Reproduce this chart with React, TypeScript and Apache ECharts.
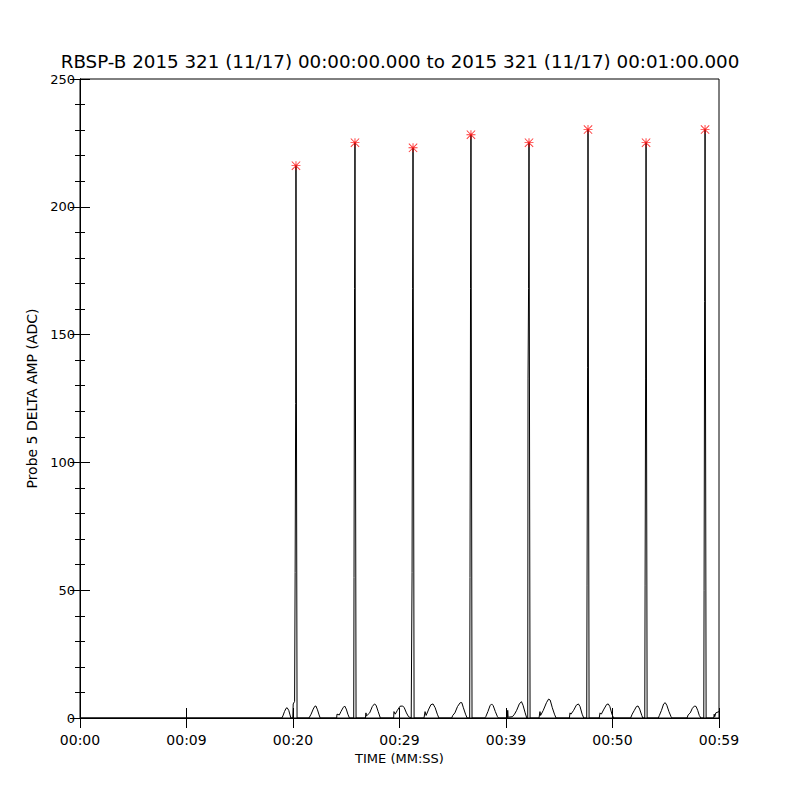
import React, { useEffect, useRef } from 'react';
import * as echarts from 'echarts';

const titleText = 'RBSP-B 2015 321 (11/17) 00:00:00.000 to 2015 321 (11/17) 00:01:00.000';
const xTickLabels = ['00:00', '00:09', '00:20', '00:29', '00:39', '00:50', '00:59'];
const xName = 'TIME (MM:SS)';
const yName = 'Probe 5 DELTA AMP (ADC)';

// peak markers (seconds, ADC)
const peakTimes = [20.28, 25.82, 31.27, 36.71, 42.16, 47.7, 53.15, 58.69];
const peakValues = [216.1, 225.1, 223.1, 228.2, 225.1, 230.2, 225.1, 230.2];

// signal samples [seconds, ADC]
const signal: [number, number][] = [
  [0, 0], [18.95, 0],
  [19.05, 0.8], [19.2, 2.5], [19.35, 3.8], [19.45, 4], [19.6, 3], [19.72, 1.2], [19.8, 0],
  [19.98, 0], [20.02, 5.5], [20.15, 6.5], [20.2, 57], [20.25, 123], [20.28, 216.1], [20.38, 0],
  [21.5, 0], [21.7, 1.5], [21.9, 3.5], [22.05, 4.6], [22.15, 4.7], [22.3, 3.2], [22.45, 1.2], [22.55, 0],
  [24.1, 0], [24.13, 1.5], [24.35, 1.2], [24.5, 2.5], [24.7, 4], [24.85, 4.7], [25.0, 3.5], [25.15, 1.5], [25.3, 0],
  [25.7, 0], [25.73, 55], [25.78, 168], [25.82, 225.1], [25.92, 0],
  [26.8, 0], [26.85, 2], [26.9, 0.8], [27.2, 2], [27.45, 4.5], [27.65, 5.5], [27.8, 5], [28.0, 2.5], [28.2, 0],
  [29.45, 0], [29.48, 2.5], [29.6, 1.5], [29.8, 3], [30.05, 4.6], [30.3, 4.7], [30.45, 4], [30.65, 2], [30.85, 0.5], [31.1, 0],
  [31.15, 0], [31.18, 57], [31.23, 168], [31.27, 223.1], [31.37, 0],
  [32.3, 0], [32.4, 2.5], [32.5, 1], [32.75, 3.5], [32.95, 5.2], [33.15, 5.5], [33.35, 4], [33.55, 1.5], [33.7, 0],
  [34.9, 0], [35.0, 1], [35.2, 2], [35.45, 4.5], [35.7, 6], [35.85, 6], [36.0, 4], [36.2, 1.5], [36.35, 0],
  [36.59, 0], [36.62, 55], [36.67, 168], [36.71, 228.2], [36.81, 0],
  [38.0, 0], [38.1, 0.5], [38.3, 2.5], [38.5, 4.8], [38.65, 5.5], [38.8, 4.8], [39.0, 2.5], [39.2, 0.5], [39.3, 0],
  [40.13, 0], [40.16, 3], [40.2, 0.3], [40.6, 0.5], [40.8, 1.5], [41.0, 3], [41.25, 5.5], [41.45, 6.4], [41.6, 5], [41.8, 2], [41.95, 0],
  [42.04, 0], [42.07, 133], [42.12, 168], [42.16, 225.1], [42.26, 0],
  [43.1, 0], [43.19, 2.5], [43.25, 1], [43.5, 3], [43.8, 6], [44.0, 7.4], [44.15, 7], [44.35, 4], [44.55, 1.5], [44.7, 0],
  [45.95, 0], [46.01, 2], [46.1, 1.5], [46.35, 3], [46.6, 5], [46.8, 5.5], [46.95, 4.5], [47.15, 1.5], [47.3, 0],
  [47.58, 0], [47.61, 52], [47.66, 137], [47.7, 230.2], [47.8, 0],
  [48.75, 0], [48.83, 2], [48.95, 1.5], [49.2, 3.5], [49.45, 5.3], [49.6, 5.5], [49.75, 4.5], [49.95, 1.5], [50.1, 0],
  [51.7, 0], [51.85, 1.5], [52.05, 3], [52.25, 4.5], [52.4, 4.7], [52.55, 3.5], [52.75, 1], [52.85, 0],
  [53.03, 0], [53.06, 52], [53.11, 133], [53.15, 225.1], [53.25, 0],
  [54.3, 0], [54.4, 1], [54.6, 3], [54.8, 5.5], [54.95, 6], [55.1, 5], [55.3, 2.5], [55.5, 0.5], [55.6, 0],
  [57.0, 0], [57.1, 1.2], [57.3, 2], [57.5, 3.8], [57.7, 4.7], [57.85, 4.5], [58.0, 3], [58.15, 1], [58.3, 0],
  [58.57, 0], [58.6, 50], [58.65, 163], [58.69, 230.2], [58.79, 0],
  [59.5, 0], [59.55, 1.5], [59.6, 0.5], [59.7, 2], [60, 2.5],
];

const asteriskPath =
  'path://M0 45 L100 45 L100 55 L0 55 Z M45 0 L55 0 L55 100 L45 100 Z ' +
  'M7 0 L100 93 L93 100 L0 7 Z M93 0 L100 7 L7 100 L0 93 Z';

const FONT = 'DejaVu Sans';

export default function App() {
  const ref = useRef<HTMLDivElement>(null);
  useEffect(() => {
    if (!ref.current) return;
    const chart = echarts.init(ref.current, undefined, { renderer: 'svg' });
    const axisLine = { show: true, lineStyle: { color: '#000', width: 1 } };
    chart.setOption({
      animation: false,
      backgroundColor: '#fff',
      title: {
        text: titleText,
        left: 'center',
        top: 47,
        textStyle: { fontFamily: FONT, fontSize: 18.3, fontWeight: 'normal', color: '#000' },
      },
      grid: { left: 80, top: 79, width: 639, height: 639, show: true, borderColor: '#000', borderWidth: 1 },
      xAxis: [
        {
          type: 'value', min: 0, max: 60, interval: 10, position: 'bottom',
          axisLine, splitLine: { show: false },
          axisTick: { inside: true, length: 10, lineStyle: { color: '#000' } },
          axisLabel: {
            margin: 15, fontFamily: FONT, fontSize: 14, color: '#000',
            formatter: (v: number) => xTickLabels[Math.round(v / 10)] ?? '',
          },
          name: xName, nameLocation: 'middle', nameGap: 34,
          nameTextStyle: { fontFamily: FONT, fontSize: 13, color: '#000' },
        },
        {
          type: 'value', min: 0, max: 60, interval: 10, position: 'top',
          axisLine, splitLine: { show: false },
          axisTick: { inside: true, length: 10, lineStyle: { color: '#000' } },
          axisLabel: { show: false },
        },
      ],
      yAxis: [
        {
          type: 'value', min: 0, max: 250, interval: 50, position: 'left',
          axisLine, splitLine: { show: false },
          axisTick: { inside: true, length: 10, lineStyle: { color: '#000' } },
          minorTick: { show: true, splitNumber: 5, length: 5, lineStyle: { color: '#000' } },
          axisLabel: { margin: 5, fontFamily: FONT, fontSize: 13, color: '#000' },
          name: yName, nameLocation: 'middle', nameGap: 40, nameRotate: 90,
          nameTextStyle: { fontFamily: FONT, fontSize: 14, color: '#000' },
        },
        {
          type: 'value', min: 0, max: 250, interval: 50, position: 'right',
          axisLine, splitLine: { show: false },
          axisTick: { inside: true, length: 10, lineStyle: { color: '#000' } },
          minorTick: { show: true, splitNumber: 5, length: 5, lineStyle: { color: '#000' } },
          axisLabel: { show: false },
        },
      ],
      series: [
        {
          type: 'line', data: signal, xAxisIndex: 0, yAxisIndex: 0,
          showSymbol: false, symbol: 'none',
          lineStyle: { color: '#000', width: 1 }, z: 2,
        },
        {
          type: 'scatter', data: peakTimes.map((t, i) => [t, peakValues[i]]),
          xAxisIndex: 0, yAxisIndex: 0,
          symbol: asteriskPath, symbolSize: 9,
          itemStyle: { color: '#ff0000' }, z: 3,
        },
      ],
    });
    return () => chart.dispose();
  }, []);
  return (
    <div
      ref={ref}
      style={{ position: 'fixed', left: 0, top: 0, width: 800, height: 800, background: '#fff' }}
    />
  );
}
